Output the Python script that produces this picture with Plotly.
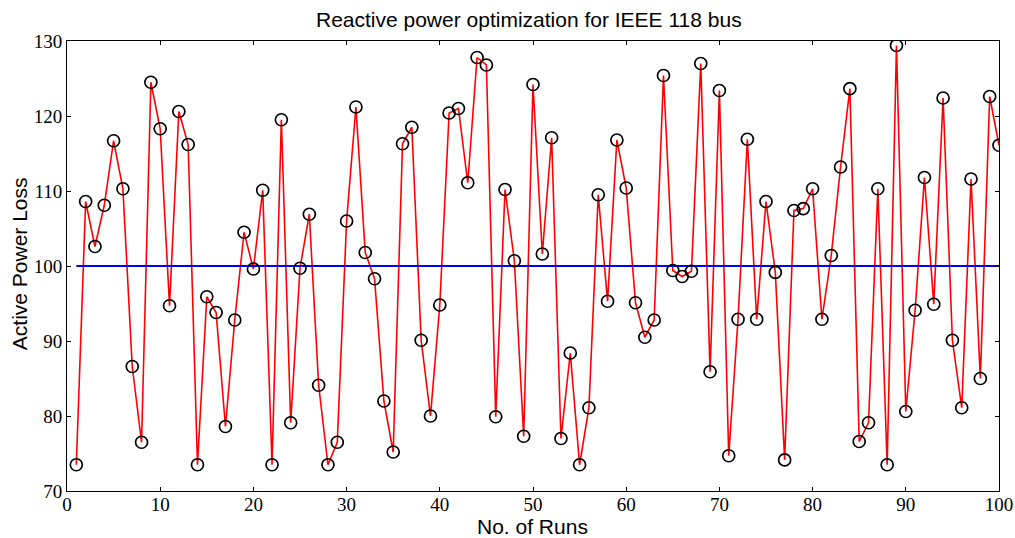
import plotly.graph_objects as go

runs = list(range(1, 101))
active_power_loss = [
    73.5, 108.6, 102.6, 108.1, 116.7, 110.3, 86.6, 76.5, 124.5, 118.3,
    94.7, 120.6, 116.2, 73.5, 95.9, 93.8, 78.6, 92.8, 104.5, 99.6,
    110.1, 73.5, 119.5, 79.1, 99.7, 106.9, 84.1, 73.5, 76.5, 106.0,
    121.2, 101.8, 98.3, 82.0, 75.2, 116.3, 118.5, 90.1, 80.0, 94.8,
    120.4, 121.0, 111.1, 127.8, 126.8, 79.9, 110.2, 100.7, 77.3, 124.2,
    101.6, 117.1, 77.0, 88.4, 73.5, 81.1, 109.5, 95.3, 116.8, 110.4,
    95.1, 90.5, 92.8, 125.4, 99.4, 98.6, 99.3, 127.0, 85.9, 123.4,
    74.7, 92.9, 116.9, 92.9, 108.6, 99.15, 74.15, 107.4, 107.65, 110.3,
    92.9, 101.4, 113.2, 123.65, 76.6, 79.1, 110.3, 73.5, 129.4, 80.6,
    94.1, 111.8, 94.9, 122.4, 90.1, 81.1, 111.6, 85.0, 122.6, 116.1,
]
reference_runs = [1, 100]
reference_loss = [100, 100]

title_text = "Reactive power optimization for IEEE 118 bus"
x_title = "No. of Runs"
y_title = "Active Power Loss"
x_ticks = [0, 10, 20, 30, 40, 50, 60, 70, 80, 90, 100]
y_ticks = [70, 80, 90, 100, 110, 120, 130]

fig = go.Figure()
fig.add_trace(go.Scatter(
    x=runs, y=active_power_loss, mode="lines",
    line=dict(color="#ff0000", width=1.6), showlegend=False, hoverinfo="skip",
))
fig.add_trace(go.Scatter(
    x=reference_runs, y=reference_loss, mode="lines",
    line=dict(color="#0000ff", width=2), showlegend=False,
))
fig.add_trace(go.Scatter(
    x=runs, y=active_power_loss, mode="markers",
    marker=dict(symbol="circle-open", size=12, color="#000000", line=dict(width=1.7, color="#000000")),
    showlegend=False,
))

axis_common = dict(
    showgrid=False, zeroline=False, showline=True, linecolor="#000000", linewidth=1,
    mirror="ticks", ticks="inside", ticklen=4, tickcolor="#000000", tickwidth=1,
    tickfont=dict(family="Liberation Serif", size=19, color="#000000"),
    automargin=False,
)

label_font = dict(family="Liberation Sans", size=21, color="#000000")

fig.update_layout(
    width=1015, height=538,
    margin=dict(l=67, r=16, t=41, b=47),
    paper_bgcolor="#ffffff", plot_bgcolor="#ffffff",
    title=dict(text=title_text, x=0.521, xanchor="center", y=0.9635, yanchor="middle",
               font=label_font),
    xaxis=dict(range=[0, 100], tickvals=x_ticks, ticklabelstandoff=-4, **axis_common),
    yaxis=dict(range=[70, 130], tickvals=y_ticks, **axis_common),
    annotations=[
        dict(text=x_title, xref="paper", yref="paper", x=0.499, y=-0.078,
             xanchor="center", yanchor="middle", showarrow=False, font=label_font),
        dict(text=y_title, xref="paper", yref="paper", x=-0.0515, y=0.504,
             xanchor="center", yanchor="middle", showarrow=False, textangle=-90,
             font=label_font),
    ],
)

fig.write_html(
    "out.html",
    config={"displayModeBar": False},
    post_script="document.body.style.margin='0';document.body.style.overflow='hidden';",
)
